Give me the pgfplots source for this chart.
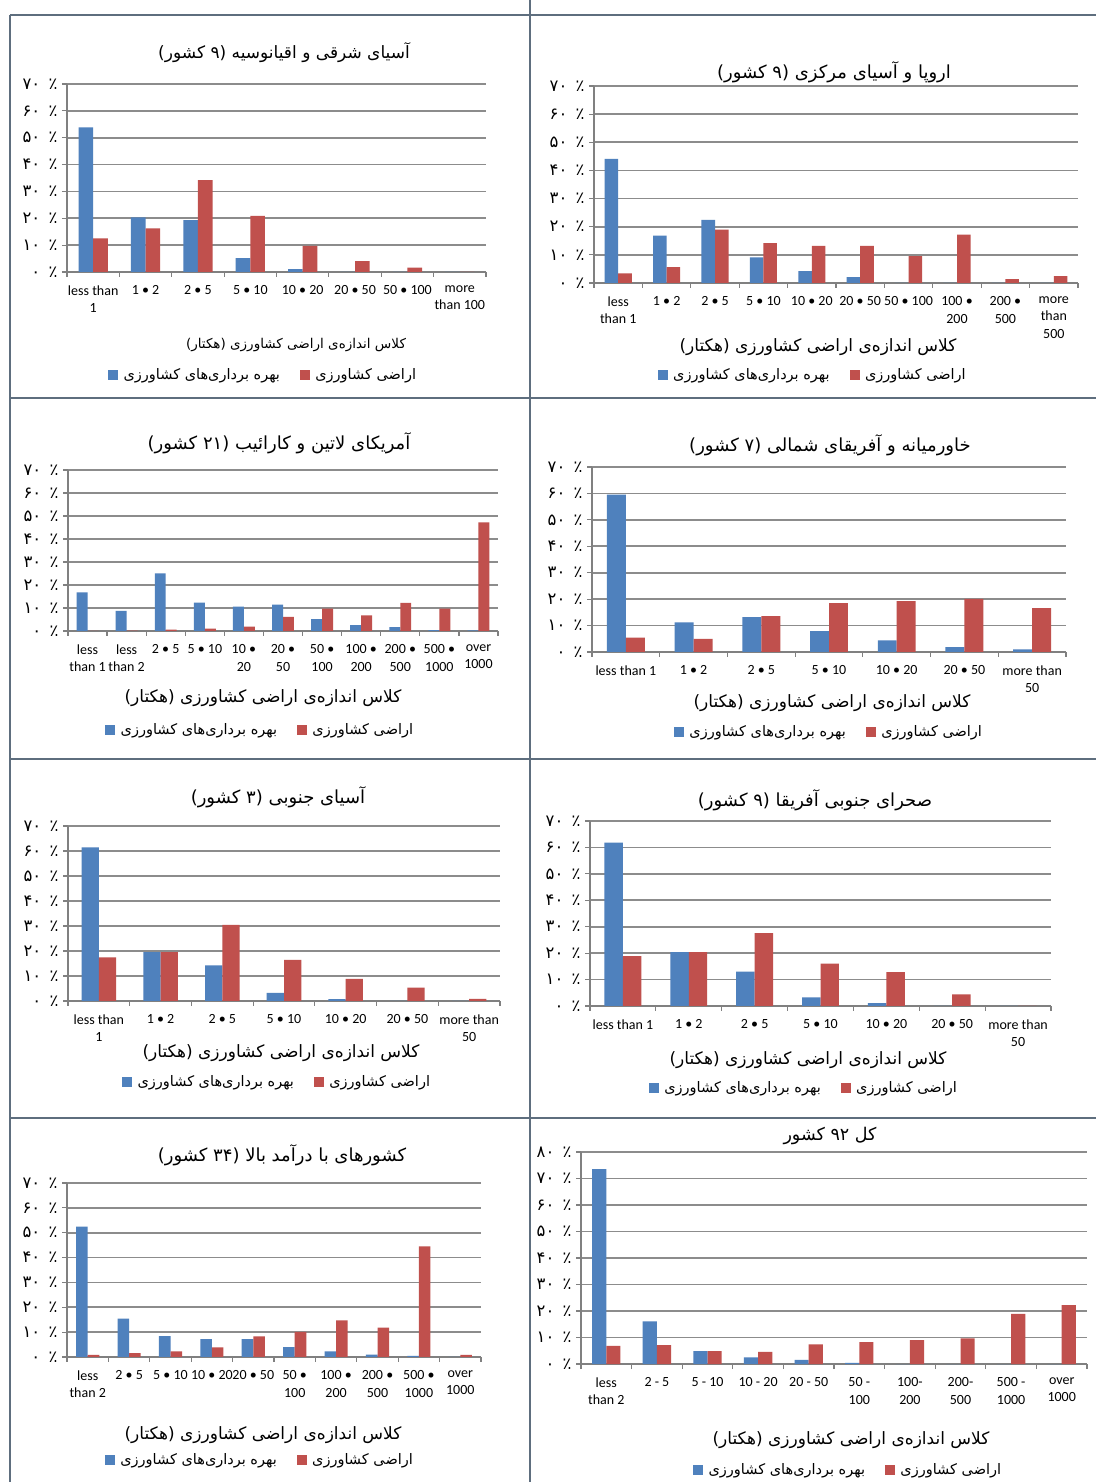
\documentclass[border=0pt]{standalone}
\usepackage{fontspec}
\usepackage{pgfplots}
\pgfplotsset{compat=1.18}
\setmainfont{Carlito}
\newfontfamily\fa[Script=Arabic]{DejaVu Sans}
\TeXXeTstate=1
\definecolor{cb}{HTML}{4F81BD}
\definecolor{cr}{HTML}{C0504D}
\definecolor{gridc}{HTML}{8C8C8C}
\definecolor{axisc}{HTML}{808080}
\definecolor{border}{HTML}{5E6E7E}
\newcommand{\LA}{\beginR بهره برداری‌های کشاورزی\endR}
\newcommand{\LB}{\beginR اراضی کشاورزی\endR}
\newcommand{\XL}{\beginR کلاس اندازه‌ی اراضی کشاورزی (هکتار)\endR}
\newcommand{\Pc}[1]{\beginR ٪\hspace{3pt} #1\endR}
\pgfplotsset{
 panel/.style={
  scale only axis, anchor=south west,
  axis lines*=left,
  axis line style={draw=axisc, line width=1.3pt},
  xmin=-0.5, ymin=0, ymax=70, enlargelimits=false,
  ytick={0,10,...,70}, minor ytick={0,10,...,70},
  yticklabels={{\Pc{۰}},{\Pc{۱۰}},{\Pc{۲۰}},{\Pc{۳۰}},{\Pc{۴۰}},{\Pc{۵۰}},{\Pc{۶۰}},{\Pc{۷۰}}},
  major tick length=0pt, minor tick length=5pt, tick align=outside,
  minor tick style={draw=axisc, line width=1.2pt},
  ymajorgrids, major grid style={draw=gridc, line width=1.7pt},
  x tick label style={font=\fontsize{14}{17.5}\selectfont, align=center, yshift=-10pt},
  y tick label style={font=\fa\fontsize{16.5}{17}\selectfont, xshift=-6pt},
  legend columns=2,
  legend cell align=left,
  legend style={draw=none, fill=none, anchor=center, font=\fa\fontsize{14.5}{16}\selectfont,
    /tikz/every odd column/.append style={column sep=4pt},
    /tikz/every even column/.append style={column sep=18pt}},
 },
 bb/.style={ybar, bar width=0.28, bar shift=-0.14, fill=cb, draw=none, forget plot},
 rb/.style={ybar, bar width=0.28, bar shift=0.14, fill=cr, draw=none, forget plot},
 legA/.style={legend image code/.code={\fill[cb] (0pt,-4.5pt) rectangle (9pt,4.5pt);}},
 legB/.style={legend image code/.code={\fill[cr] (0pt,-4.5pt) rectangle (9pt,4.5pt);}},
}
\newcommand{\Legs}{%
 \addlegendimage{legA}\addlegendentry{\LA}%
 \addlegendimage{legB}\addlegendentry{\LB}}
\begin{document}
\begin{tikzpicture}[x=1pt,y=1pt]
\path[use as bounding box] (0,0) rectangle (1096,1482);
\fill[white] (0,0) rectangle (1096,1482);
\begin{scope}[draw=border, line width=1.3pt]
\draw (10,1467) -- (1096,1467);
\draw (10,1084) -- (1096,1084);
\draw (10,723) -- (1096,723);
\draw (10,364) -- (1096,364);
\draw (10,0) -- (10,1467);
\draw (530,0) -- (530,1482);
\end{scope}

% Panel 1
\begin{axis}[panel, at={(67pt,1210pt)}, width=419pt, height=188pt,
 xmax=7.5, xtick={0,...,7}, minor xtick={-0.5,0.5,...,7.5},
 xticklabels={{less than\\1},{1 • 2},{2 • 5},{5 • 10},{10 • 20},{20 • 50},{50 • 100},{more\\than 100}},
 legend style={at={(0.468,-0.548)}}]
\addplot[bb] coordinates {(0,53.8) (1,20.3) (2,19.3) (3,5.2) (4,1.1) (5,0) (6,0) (7,0)};
\addplot[rb] coordinates {(0,12.5) (1,16.2) (2,34.2) (3,20.9) (4,9.7) (5,4.0) (6,1.6) (7,0)};
\Legs
\end{axis}

% Panel 2
\begin{axis}[panel, at={(594pt,1199pt)}, width=484pt, height=197pt,
 xmax=9.5, xtick={0,...,9}, minor xtick={-0.5,0.5,...,9.5},
 xticklabels={{less\\than 1},{1 • 2},{2 • 5},{5 • 10},{10 • 20},{20 • 50},{50 • 100},{100 •\\200},{200 •\\500},{more\\than\\500}},
 legend style={at={(0.452,-0.467)}}]
\addplot[bb] coordinates {(0,44.1) (1,16.8) (2,22.4) (3,9.1) (4,4.2) (5,2.1) (6,0) (7,0) (8,0) (9,0)};
\addplot[rb] coordinates {(0,3.4) (1,5.6) (2,19.0) (3,14.2) (4,13.2) (5,13.2) (6,9.5) (7,17.2) (8,1.4) (9,2.4)};
\Legs
\end{axis}

% Panel 3
\begin{axis}[panel, at={(68pt,851pt)}, width=430pt, height=161pt,
 xmax=10.5, xtick={0,...,10}, minor xtick={-0.5,0.5,...,10.5},
 xticklabels={{less\\than 1},{less\\than 2},{2 • 5},{5 • 10},{10 •\\20},{20 •\\50},{50 •\\100},{100 •\\200},{200 •\\500},{500 •\\1000},{over\\1000}},
 legend style={at={(0.447,-0.615)}}]
\addplot[bb] coordinates {(0,16.8) (1,8.7) (2,25.0) (3,12.3) (4,10.6) (5,11.5) (6,5.2) (7,2.6) (8,1.7) (9,0.4) (10,0.3)};
\addplot[rb] coordinates {(0,0) (1,0.2) (2,0.6) (3,1.0) (4,1.9) (5,6.1) (6,9.7) (7,6.8) (8,12.2) (9,9.7) (10,47.2)};
\Legs
\end{axis}

% Panel 4
\begin{axis}[panel, at={(592pt,830pt)}, width=474pt, height=185pt,
 xmax=6.5, xtick={0,...,6}, minor xtick={-0.5,0.5,...,6.5},
 xticklabels={{less than 1},{1 • 2},{2 • 5},{5 • 10},{10 • 20},{20 • 50},{more than\\50}},
 legend style={at={(0.5,-0.432)}}]
\addplot[bb] coordinates {(0,59.5) (1,11.2) (2,13.2) (3,7.9) (4,4.4) (5,1.8) (6,1.0)};
\addplot[rb] coordinates {(0,5.4) (1,5.0) (2,13.6) (3,18.5) (4,19.2) (5,20.1) (6,16.6)};
\Legs
\end{axis}

% Panel 5
\begin{axis}[panel, at={(68pt,481pt)}, width=432pt, height=175pt,
 xmax=6.5, xtick={0,...,6}, minor xtick={-0.5,0.5,...,6.5},
 xticklabels={{less than\\1},{1 • 2},{2 • 5},{5 • 10},{10 • 20},{20 • 50},{more than\\50}},
 legend style={at={(0.484,-0.463)}}]
\addplot[bb] coordinates {(0,61.4) (1,19.5) (2,14.2) (3,3.2) (4,0.7) (5,0) (6,0)};
\addplot[rb] coordinates {(0,17.4) (1,19.5) (2,30.4) (3,16.4) (4,8.8) (5,5.3) (6,0.8)};
\Legs
\end{axis}

% Panel 6
\begin{axis}[panel, at={(590pt,476pt)}, width=461pt, height=185pt,
 xmax=6.5, xtick={0,...,6}, minor xtick={-0.5,0.5,...,6.5},
 xticklabels={{less than 1},{1 • 2},{2 • 5},{5 • 10},{10 • 20},{20 • 50},{more than\\50}},
 legend style={at={(0.464,-0.443)}}]
\addplot[bb] coordinates {(0,61.8) (1,20.4) (2,13.0) (3,3.3) (4,1.1) (5,0) (6,0)};
\addplot[rb] coordinates {(0,18.9) (1,20.4) (2,27.6) (3,16.0) (4,12.8) (5,4.4) (6,0)};
\Legs
\end{axis}

% Panel 7
\begin{axis}[panel, at={(67pt,125pt)}, width=414pt, height=174pt,
 xmax=9.5, xtick={0,...,9}, minor xtick={-0.5,0.5,...,9.5},
 xticklabels={{less\\than 2},{2 • 5},{5 • 10},{10 • 20},{20 • 50},{50 •\\100},{100 •\\200},{200 •\\500},{500 •\\1000},{over\\1000}},
 legend style={at={(0.466,-0.592)}}]
\addplot[bb] coordinates {(0,52.5) (1,15.4) (2,8.4) (3,7.2) (4,7.2) (5,4.0) (6,2.3) (7,1.0) (8,0.5) (9,0)};
\addplot[rb] coordinates {(0,0.9) (1,1.6) (2,2.3) (3,3.9) (4,8.3) (5,10.1) (6,14.7) (7,11.8) (8,44.5) (9,0.9)};
\Legs
\end{axis}

% Panel 8
\begin{axis}[panel, at={(581pt,118pt)}, width=506pt, height=212pt,
 ymax=80, ytick={0,10,...,80}, minor ytick={0,10,...,80},
 yticklabels={{\Pc{۰}},{\Pc{۱۰}},{\Pc{۲۰}},{\Pc{۳۰}},{\Pc{۴۰}},{\Pc{۵۰}},{\Pc{۶۰}},{\Pc{۷۰}},{\Pc{۸۰}}},
 xmax=9.5, xtick={0,...,9}, minor xtick={-0.5,0.5,...,9.5},
 xticklabels={{less\\than 2},{2 - 5},{5 - 10},{10 - 20},{20 - 50},{50 -\\100},{100-\\200},{200-\\500},{500 -\\1000},{over\\1000}},
 legend style={at={(0.528,-0.5)}}]
\addplot[bb] coordinates {(0,73.5) (1,16.1) (2,4.9) (3,2.5) (4,1.6) (5,0.4) (6,0) (7,0) (8,0) (9,0)};
\addplot[rb] coordinates {(0,6.8) (1,7.1) (2,4.9) (3,4.6) (4,7.4) (5,8.3) (6,9.0) (7,9.7) (8,18.9) (9,22.2)};
\Legs
\end{axis}

% Titles
\begin{scope}[every node/.style={font=\fa\fontsize{18}{19}\selectfont, inner sep=0pt}]
\node[font=\fa\fontsize{17}{18}\selectfont] at (284,1429) {\beginR آسیای شرقی و اقیانوسیه (۹ کشور)\endR};
\node at (834,1410) {\beginR اروپا و آسیای مرکزی (۹ کشور)\endR};
\node at (279,1039) {\beginR آمریکای لاتین و کارائیب (۲۱ کشور)\endR};
\node at (830,1037) {\beginR خاورمیانه و آفریقای شمالی (۷ کشور)\endR};
\node at (278,685) {\beginR آسیای جنوبی (۳ کشور)\endR};
\node at (815,682) {\beginR صحرای جنوبی آفریقا (۹ کشور)\endR};
\node at (282,327) {\beginR کشورهای با درآمد بالا (۳۴ کشور)\endR};
\node[font=\fa\fontsize{17.5}{18}\selectfont] at (830,346) {\beginR کل ۹۲ کشور\endR};
\end{scope}
% x labels
\begin{scope}[every node/.style={font=\fa\fontsize{17}{18}\selectfont, inner sep=0pt}]
\node[font=\fa\fontsize{13.5}{15}\selectfont] at (296,1137) {\XL};
\node at (818,1135) {\XL};
\node at (263,784) {\XL};
\node at (832,779) {\XL};
\node at (281,429) {\XL};
\node at (808,422) {\XL};
\node at (263,47) {\XL};
\node at (851,42) {\XL};
\end{scope}
\end{tikzpicture}
\end{document}
